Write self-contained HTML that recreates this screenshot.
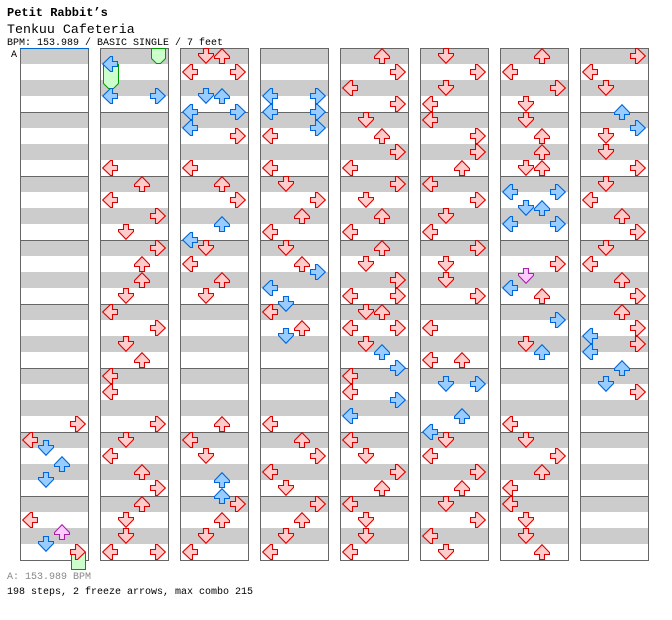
<!DOCTYPE html>
<html><head><meta charset="utf-8"><style>
html,body{margin:0;padding:0;background:#fff;width:672px;height:620px;overflow:hidden}
svg{display:block}
.r{fill:#ffcccc;stroke:#dd0000}
.b{fill:#99ccff;stroke:#0066dd}
.p{fill:#ffccff;stroke:#aa22aa}
text{font-family:"Liberation Mono",monospace}
</style></head><body>
<svg width="672" height="620" xmlns="http://www.w3.org/2000/svg">
<defs>
<pattern id="st" x="0" y="48" width="68" height="32" patternUnits="userSpaceOnUse"><rect width="68" height="16" fill="#cccccc"/></pattern>
<polygon id="P" stroke-width="1.1" points="5.5,0.5 10.5,0.5 10.5,5.5 15.5,5.5 15.5,7.5 8,15.3 0.5,7.5 0.5,5.5 5.5,5.5"/>
<symbol id="D" viewBox="0 0 16 16"><use href="#P"/></symbol>
<symbol id="L" viewBox="0 0 16 16"><g transform="rotate(90 8 8)"><use href="#P"/></g></symbol>
<symbol id="U" viewBox="0 0 16 16"><g transform="rotate(180 8 8)"><use href="#P"/></g></symbol>
<symbol id="R" viewBox="0 0 16 16"><g transform="rotate(270 8 8)"><use href="#P"/></g></symbol>
</defs>

<text x="7" y="16" font-size="12" font-weight="bold">Petit Rabbit’s</text>
<text x="7" y="33" font-size="13.3">Tenkuu Cafeteria</text>
<text x="7" y="45" font-size="10">BPM: 153.989 / BASIC SINGLE / 7 feet</text>
<text x="11" y="57" font-size="10">A</text>
<text x="7" y="579" font-size="10" fill="#888">A: 153.989 BPM</text>
<text x="7" y="594" font-size="10">198 steps, 2 freeze arrows, max combo 215</text>

<g stroke="#666" stroke-width="1">
<g id="c1"><rect x="20.5" y="48.5" width="68" height="512" fill="#fff"/><rect x="21" y="48" width="67" height="512" fill="url(#st)" stroke="none"/>
<path d="M20 112.5H88M20 176.5H88M20 240.5H88M20 304.5H88M20 368.5H88M20 432.5H88M20 496.5H88"/><rect x="20.5" y="48.5" width="68" height="512" fill="none"/></g>
<use href="#c1" x="80"/><use href="#c1" x="160"/><use href="#c1" x="240"/><use href="#c1" x="320"/><use href="#c1" x="400"/><use href="#c1" x="480"/><use href="#c1" x="560"/>
</g>
<line x1="20" y1="48.5" x2="89" y2="48.5" stroke="#0066cc" stroke-width="1"/>

<g fill="#ccffcc" stroke="#009900">
<polygon points="151.5,48.5 165.5,48.5 165.5,58.5 160.5,63.5 156.5,63.5 151.5,58.5"/>
<polygon points="103.5,64.5 118.5,64.5 118.5,83.5 113.5,88.5 108.5,88.5 103.5,83.5"/>
<rect x="71.5" y="552.5" width="14" height="17"/>
</g>

<g>
<use href="#R" x="70" y="416" width="16" height="16" class="r"/>
<use href="#L" x="22" y="432" width="16" height="16" class="r"/>
<use href="#D" x="38" y="440" width="16" height="16" class="b"/>
<use href="#U" x="54" y="456" width="16" height="16" class="b"/>
<use href="#D" x="38" y="472" width="16" height="16" class="b"/>
<use href="#L" x="22" y="512" width="16" height="16" class="r"/>
<use href="#U" x="54" y="524" width="16" height="16" class="p"/>
<use href="#D" x="38" y="536" width="16" height="16" class="b"/>
<use href="#R" x="70" y="544" width="16" height="16" class="r"/>
<use href="#L" x="102" y="56" width="16" height="16" class="b"/>
<use href="#L" x="102" y="88" width="16" height="16" class="b"/>
<use href="#R" x="150" y="88" width="16" height="16" class="b"/>
<use href="#L" x="102" y="160" width="16" height="16" class="r"/>
<use href="#U" x="134" y="176" width="16" height="16" class="r"/>
<use href="#L" x="102" y="192" width="16" height="16" class="r"/>
<use href="#R" x="150" y="208" width="16" height="16" class="r"/>
<use href="#D" x="118" y="224" width="16" height="16" class="r"/>
<use href="#R" x="150" y="240" width="16" height="16" class="r"/>
<use href="#U" x="134" y="256" width="16" height="16" class="r"/>
<use href="#U" x="134" y="272" width="16" height="16" class="r"/>
<use href="#D" x="118" y="288" width="16" height="16" class="r"/>
<use href="#L" x="102" y="304" width="16" height="16" class="r"/>
<use href="#R" x="150" y="320" width="16" height="16" class="r"/>
<use href="#D" x="118" y="336" width="16" height="16" class="r"/>
<use href="#U" x="134" y="352" width="16" height="16" class="r"/>
<use href="#L" x="102" y="368" width="16" height="16" class="r"/>
<use href="#L" x="102" y="384" width="16" height="16" class="r"/>
<use href="#R" x="150" y="416" width="16" height="16" class="r"/>
<use href="#D" x="118" y="432" width="16" height="16" class="r"/>
<use href="#L" x="102" y="448" width="16" height="16" class="r"/>
<use href="#U" x="134" y="464" width="16" height="16" class="r"/>
<use href="#R" x="150" y="480" width="16" height="16" class="r"/>
<use href="#U" x="134" y="496" width="16" height="16" class="r"/>
<use href="#D" x="118" y="512" width="16" height="16" class="r"/>
<use href="#D" x="118" y="528" width="16" height="16" class="r"/>
<use href="#L" x="102" y="544" width="16" height="16" class="r"/>
<use href="#R" x="150" y="544" width="16" height="16" class="r"/>
<use href="#D" x="198" y="48" width="16" height="16" class="r"/>
<use href="#U" x="214" y="48" width="16" height="16" class="r"/>
<use href="#L" x="182" y="64" width="16" height="16" class="r"/>
<use href="#R" x="230" y="64" width="16" height="16" class="r"/>
<use href="#D" x="198" y="88" width="16" height="16" class="b"/>
<use href="#U" x="214" y="88" width="16" height="16" class="b"/>
<use href="#L" x="182" y="104" width="16" height="16" class="b"/>
<use href="#R" x="230" y="104" width="16" height="16" class="b"/>
<use href="#L" x="182" y="120" width="16" height="16" class="b"/>
<use href="#R" x="230" y="128" width="16" height="16" class="r"/>
<use href="#L" x="182" y="160" width="16" height="16" class="r"/>
<use href="#U" x="214" y="176" width="16" height="16" class="r"/>
<use href="#R" x="230" y="192" width="16" height="16" class="r"/>
<use href="#U" x="214" y="216" width="16" height="16" class="b"/>
<use href="#L" x="182" y="232" width="16" height="16" class="b"/>
<use href="#D" x="198" y="240" width="16" height="16" class="r"/>
<use href="#L" x="182" y="256" width="16" height="16" class="r"/>
<use href="#U" x="214" y="272" width="16" height="16" class="r"/>
<use href="#D" x="198" y="288" width="16" height="16" class="r"/>
<use href="#U" x="214" y="416" width="16" height="16" class="r"/>
<use href="#L" x="182" y="432" width="16" height="16" class="r"/>
<use href="#D" x="198" y="448" width="16" height="16" class="r"/>
<use href="#U" x="214" y="472" width="16" height="16" class="b"/>
<use href="#U" x="214" y="488" width="16" height="16" class="b"/>
<use href="#R" x="230" y="496" width="16" height="16" class="r"/>
<use href="#U" x="214" y="512" width="16" height="16" class="r"/>
<use href="#D" x="198" y="528" width="16" height="16" class="r"/>
<use href="#L" x="182" y="544" width="16" height="16" class="r"/>
<use href="#L" x="262" y="88" width="16" height="16" class="b"/>
<use href="#R" x="310" y="88" width="16" height="16" class="b"/>
<use href="#L" x="262" y="104" width="16" height="16" class="b"/>
<use href="#R" x="310" y="104" width="16" height="16" class="b"/>
<use href="#R" x="310" y="120" width="16" height="16" class="b"/>
<use href="#L" x="262" y="128" width="16" height="16" class="r"/>
<use href="#L" x="262" y="160" width="16" height="16" class="r"/>
<use href="#D" x="278" y="176" width="16" height="16" class="r"/>
<use href="#R" x="310" y="192" width="16" height="16" class="r"/>
<use href="#U" x="294" y="208" width="16" height="16" class="r"/>
<use href="#L" x="262" y="224" width="16" height="16" class="r"/>
<use href="#D" x="278" y="240" width="16" height="16" class="r"/>
<use href="#U" x="294" y="256" width="16" height="16" class="r"/>
<use href="#R" x="310" y="264" width="16" height="16" class="b"/>
<use href="#L" x="262" y="280" width="16" height="16" class="b"/>
<use href="#D" x="278" y="296" width="16" height="16" class="b"/>
<use href="#L" x="262" y="304" width="16" height="16" class="r"/>
<use href="#U" x="294" y="320" width="16" height="16" class="r"/>
<use href="#D" x="278" y="328" width="16" height="16" class="b"/>
<use href="#L" x="262" y="416" width="16" height="16" class="r"/>
<use href="#U" x="294" y="432" width="16" height="16" class="r"/>
<use href="#R" x="310" y="448" width="16" height="16" class="r"/>
<use href="#L" x="262" y="464" width="16" height="16" class="r"/>
<use href="#D" x="278" y="480" width="16" height="16" class="r"/>
<use href="#R" x="310" y="496" width="16" height="16" class="r"/>
<use href="#U" x="294" y="512" width="16" height="16" class="r"/>
<use href="#D" x="278" y="528" width="16" height="16" class="r"/>
<use href="#L" x="262" y="544" width="16" height="16" class="r"/>
<use href="#U" x="374" y="48" width="16" height="16" class="r"/>
<use href="#R" x="390" y="64" width="16" height="16" class="r"/>
<use href="#L" x="342" y="80" width="16" height="16" class="r"/>
<use href="#R" x="390" y="96" width="16" height="16" class="r"/>
<use href="#D" x="358" y="112" width="16" height="16" class="r"/>
<use href="#U" x="374" y="128" width="16" height="16" class="r"/>
<use href="#R" x="390" y="144" width="16" height="16" class="r"/>
<use href="#L" x="342" y="160" width="16" height="16" class="r"/>
<use href="#R" x="390" y="176" width="16" height="16" class="r"/>
<use href="#D" x="358" y="192" width="16" height="16" class="r"/>
<use href="#U" x="374" y="208" width="16" height="16" class="r"/>
<use href="#L" x="342" y="224" width="16" height="16" class="r"/>
<use href="#U" x="374" y="240" width="16" height="16" class="r"/>
<use href="#D" x="358" y="256" width="16" height="16" class="r"/>
<use href="#R" x="390" y="272" width="16" height="16" class="r"/>
<use href="#L" x="342" y="288" width="16" height="16" class="r"/>
<use href="#R" x="390" y="288" width="16" height="16" class="r"/>
<use href="#D" x="358" y="304" width="16" height="16" class="r"/>
<use href="#U" x="374" y="304" width="16" height="16" class="r"/>
<use href="#L" x="342" y="320" width="16" height="16" class="r"/>
<use href="#R" x="390" y="320" width="16" height="16" class="r"/>
<use href="#D" x="358" y="336" width="16" height="16" class="r"/>
<use href="#U" x="374" y="344" width="16" height="16" class="b"/>
<use href="#R" x="390" y="360" width="16" height="16" class="b"/>
<use href="#L" x="342" y="368" width="16" height="16" class="r"/>
<use href="#L" x="342" y="384" width="16" height="16" class="r"/>
<use href="#R" x="390" y="392" width="16" height="16" class="b"/>
<use href="#L" x="342" y="408" width="16" height="16" class="b"/>
<use href="#L" x="342" y="432" width="16" height="16" class="r"/>
<use href="#D" x="358" y="448" width="16" height="16" class="r"/>
<use href="#R" x="390" y="464" width="16" height="16" class="r"/>
<use href="#U" x="374" y="480" width="16" height="16" class="r"/>
<use href="#L" x="342" y="496" width="16" height="16" class="r"/>
<use href="#D" x="358" y="512" width="16" height="16" class="r"/>
<use href="#D" x="358" y="528" width="16" height="16" class="r"/>
<use href="#L" x="342" y="544" width="16" height="16" class="r"/>
<use href="#D" x="438" y="48" width="16" height="16" class="r"/>
<use href="#R" x="470" y="64" width="16" height="16" class="r"/>
<use href="#D" x="438" y="80" width="16" height="16" class="r"/>
<use href="#L" x="422" y="96" width="16" height="16" class="r"/>
<use href="#L" x="422" y="112" width="16" height="16" class="r"/>
<use href="#R" x="470" y="128" width="16" height="16" class="r"/>
<use href="#R" x="470" y="144" width="16" height="16" class="r"/>
<use href="#U" x="454" y="160" width="16" height="16" class="r"/>
<use href="#L" x="422" y="176" width="16" height="16" class="r"/>
<use href="#R" x="470" y="192" width="16" height="16" class="r"/>
<use href="#D" x="438" y="208" width="16" height="16" class="r"/>
<use href="#L" x="422" y="224" width="16" height="16" class="r"/>
<use href="#R" x="470" y="240" width="16" height="16" class="r"/>
<use href="#D" x="438" y="256" width="16" height="16" class="r"/>
<use href="#D" x="438" y="272" width="16" height="16" class="r"/>
<use href="#R" x="470" y="288" width="16" height="16" class="r"/>
<use href="#L" x="422" y="320" width="16" height="16" class="r"/>
<use href="#L" x="422" y="352" width="16" height="16" class="r"/>
<use href="#U" x="454" y="352" width="16" height="16" class="r"/>
<use href="#D" x="438" y="376" width="16" height="16" class="b"/>
<use href="#R" x="470" y="376" width="16" height="16" class="b"/>
<use href="#U" x="454" y="408" width="16" height="16" class="b"/>
<use href="#L" x="422" y="424" width="16" height="16" class="b"/>
<use href="#D" x="438" y="432" width="16" height="16" class="r"/>
<use href="#L" x="422" y="448" width="16" height="16" class="r"/>
<use href="#R" x="470" y="464" width="16" height="16" class="r"/>
<use href="#U" x="454" y="480" width="16" height="16" class="r"/>
<use href="#D" x="438" y="496" width="16" height="16" class="r"/>
<use href="#R" x="470" y="512" width="16" height="16" class="r"/>
<use href="#L" x="422" y="528" width="16" height="16" class="r"/>
<use href="#D" x="438" y="544" width="16" height="16" class="r"/>
<use href="#U" x="534" y="48" width="16" height="16" class="r"/>
<use href="#L" x="502" y="64" width="16" height="16" class="r"/>
<use href="#R" x="550" y="80" width="16" height="16" class="r"/>
<use href="#D" x="518" y="96" width="16" height="16" class="r"/>
<use href="#D" x="518" y="112" width="16" height="16" class="r"/>
<use href="#U" x="534" y="128" width="16" height="16" class="r"/>
<use href="#U" x="534" y="144" width="16" height="16" class="r"/>
<use href="#D" x="518" y="160" width="16" height="16" class="r"/>
<use href="#U" x="534" y="160" width="16" height="16" class="r"/>
<use href="#L" x="502" y="184" width="16" height="16" class="b"/>
<use href="#R" x="550" y="184" width="16" height="16" class="b"/>
<use href="#D" x="518" y="200" width="16" height="16" class="b"/>
<use href="#U" x="534" y="200" width="16" height="16" class="b"/>
<use href="#L" x="502" y="216" width="16" height="16" class="b"/>
<use href="#R" x="550" y="216" width="16" height="16" class="b"/>
<use href="#R" x="550" y="256" width="16" height="16" class="r"/>
<use href="#D" x="518" y="268" width="16" height="16" class="p"/>
<use href="#L" x="502" y="280" width="16" height="16" class="b"/>
<use href="#U" x="534" y="288" width="16" height="16" class="r"/>
<use href="#R" x="550" y="312" width="16" height="16" class="b"/>
<use href="#D" x="518" y="336" width="16" height="16" class="r"/>
<use href="#U" x="534" y="344" width="16" height="16" class="b"/>
<use href="#L" x="502" y="416" width="16" height="16" class="r"/>
<use href="#D" x="518" y="432" width="16" height="16" class="r"/>
<use href="#R" x="550" y="448" width="16" height="16" class="r"/>
<use href="#U" x="534" y="464" width="16" height="16" class="r"/>
<use href="#L" x="502" y="480" width="16" height="16" class="r"/>
<use href="#L" x="502" y="496" width="16" height="16" class="r"/>
<use href="#D" x="518" y="512" width="16" height="16" class="r"/>
<use href="#D" x="518" y="528" width="16" height="16" class="r"/>
<use href="#U" x="534" y="544" width="16" height="16" class="r"/>
<use href="#R" x="630" y="48" width="16" height="16" class="r"/>
<use href="#L" x="582" y="64" width="16" height="16" class="r"/>
<use href="#D" x="598" y="80" width="16" height="16" class="r"/>
<use href="#U" x="614" y="104" width="16" height="16" class="b"/>
<use href="#R" x="630" y="120" width="16" height="16" class="b"/>
<use href="#D" x="598" y="128" width="16" height="16" class="r"/>
<use href="#D" x="598" y="144" width="16" height="16" class="r"/>
<use href="#R" x="630" y="160" width="16" height="16" class="r"/>
<use href="#D" x="598" y="176" width="16" height="16" class="r"/>
<use href="#L" x="582" y="192" width="16" height="16" class="r"/>
<use href="#U" x="614" y="208" width="16" height="16" class="r"/>
<use href="#R" x="630" y="224" width="16" height="16" class="r"/>
<use href="#D" x="598" y="240" width="16" height="16" class="r"/>
<use href="#L" x="582" y="256" width="16" height="16" class="r"/>
<use href="#U" x="614" y="272" width="16" height="16" class="r"/>
<use href="#R" x="630" y="288" width="16" height="16" class="r"/>
<use href="#U" x="614" y="304" width="16" height="16" class="r"/>
<use href="#R" x="630" y="320" width="16" height="16" class="r"/>
<use href="#L" x="582" y="328" width="16" height="16" class="b"/>
<use href="#R" x="630" y="336" width="16" height="16" class="r"/>
<use href="#L" x="582" y="344" width="16" height="16" class="b"/>
<use href="#U" x="614" y="360" width="16" height="16" class="b"/>
<use href="#D" x="598" y="376" width="16" height="16" class="b"/>
<use href="#R" x="630" y="384" width="16" height="16" class="r"/>
</g>
</svg>
</body></html>
